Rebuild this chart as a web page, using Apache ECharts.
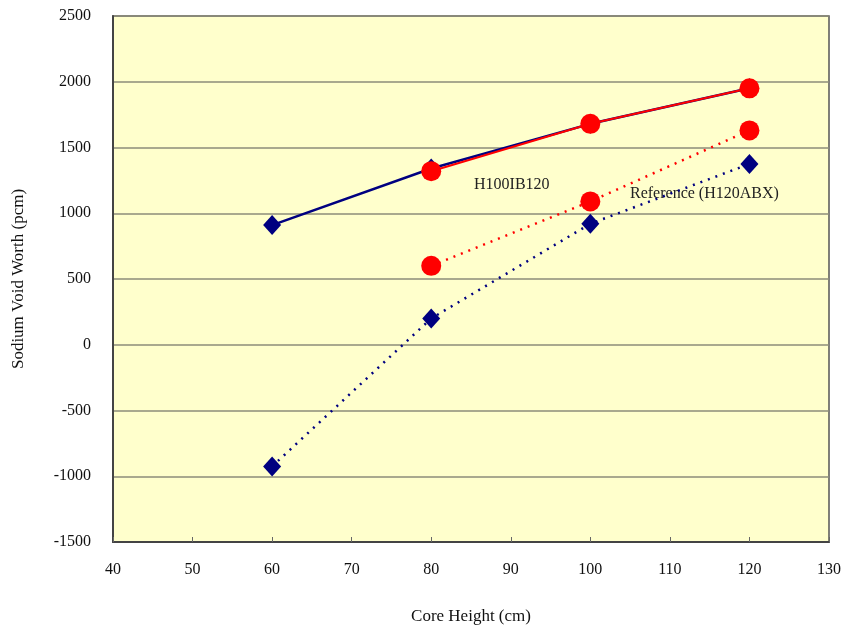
<!DOCTYPE html>
<html>
<head>
<meta charset="utf-8">
<script src="https://cdn.jsdelivr.net/npm/echarts@6/dist/echarts.min.js"></script>
<style>
  html, body { margin: 0; padding: 0; background: #fff; }
  #main { width: 846px; height: 634px; }
</style>
</head>
<body>
<div id="main"></div>
<script>
// data
var coreHeight = [60, 80, 100, 120];
var h100Blue = [910, 1340, 1680, 1950];      // H100IB120, diamonds, solid
var h100Red = [null, 1320, 1680, 1950];      // H100IB120, circles, solid
var refBlue = [-925, 200, 920, 1375];        // Reference (H120ABX), diamonds, dotted
var refRed = [null, 600, 1090, 1630];        // Reference (H120ABX), circles, dotted

function pairs(xs, ys) {
  var out = [];
  for (var i = 0; i < xs.length; i++) {
    if (ys[i] !== null) out.push([xs[i], ys[i]]);
  }
  return out;
}

var chart = echarts.init(document.getElementById('main'));
var font = 'Liberation Serif';

var option = {
  animation: false,
  textStyle: { fontFamily: font },
  grid: {
    left: 113, top: 16, right: 17, bottom: 92,
    show: true,
    backgroundColor: '#FFFFCC',
    borderColor: '#555',
    borderWidth: 1.5
  },
  xAxis: {
    type: 'value',
    min: 40, max: 130, interval: 10,
    name: 'Core Height (cm)',
    nameLocation: 'middle',
    nameGap: 66,
    nameTextStyle: { fontFamily: font, fontSize: 17, color: '#111' },
    axisLine: { onZero: false, lineStyle: { color: '#444', width: 2 } },
    axisTick: { inside: true, length: 5, lineStyle: { color: '#666' } },
    axisLabel: { fontFamily: font, fontSize: 16, color: '#111', margin: 20 },
    splitLine: { show: false }
  },
  yAxis: {
    type: 'value',
    min: -1500, max: 2500, interval: 500,
    name: 'Sodium Void Worth (pcm)',
    nameLocation: 'middle',
    nameGap: 86,
    nameTextStyle: { fontFamily: font, fontSize: 17, color: '#111' },
    axisLine: { onZero: false, lineStyle: { color: '#444', width: 2 } },
    axisTick: { show: false },
    axisLabel: {
      fontFamily: font, fontSize: 16, color: '#111', margin: 22,
      formatter: function (v) { return String(v); }
    },
    splitLine: { lineStyle: { color: '#8c8c7a', width: 1.5 } }
  },
  graphic: [
    { type: 'text', left: 474, top: 177,
      style: { text: 'H100IB120', font: '16px "Liberation Serif"', fill: '#222' } },
    { type: 'text', left: 630, top: 186,
      style: { text: 'Reference (H120ABX)', font: '16px "Liberation Serif"', fill: '#222' } }
  ],
  series: [
    {
      type: 'line', name: 'ref-blue',
      data: pairs(coreHeight, refBlue),
      symbol: 'diamond', symbolSize: [18, 20],
      itemStyle: { color: '#000080' },
      lineStyle: { color: '#000080', width: 2.5, type: [2, 6] }
    },
    {
      type: 'line', name: 'ref-red',
      data: pairs(coreHeight, refRed),
      symbol: 'circle', symbolSize: 20,
      itemStyle: { color: '#FF0000' },
      lineStyle: { color: '#FF0000', width: 2.5, type: [2, 6] }
    },
    {
      type: 'line', name: 'h100-blue',
      data: pairs(coreHeight, h100Blue),
      symbol: 'diamond', symbolSize: [18, 20],
      itemStyle: { color: '#000080' },
      lineStyle: { color: '#000080', width: 2.5 }
    },
    {
      type: 'line', name: 'h100-red',
      data: pairs(coreHeight, h100Red),
      symbol: 'circle', symbolSize: 20,
      itemStyle: { color: '#FF0000' },
      lineStyle: { color: '#FF0000', width: 2 }
    }
  ]
};

chart.setOption(option);
</script>
</body>
</html>
